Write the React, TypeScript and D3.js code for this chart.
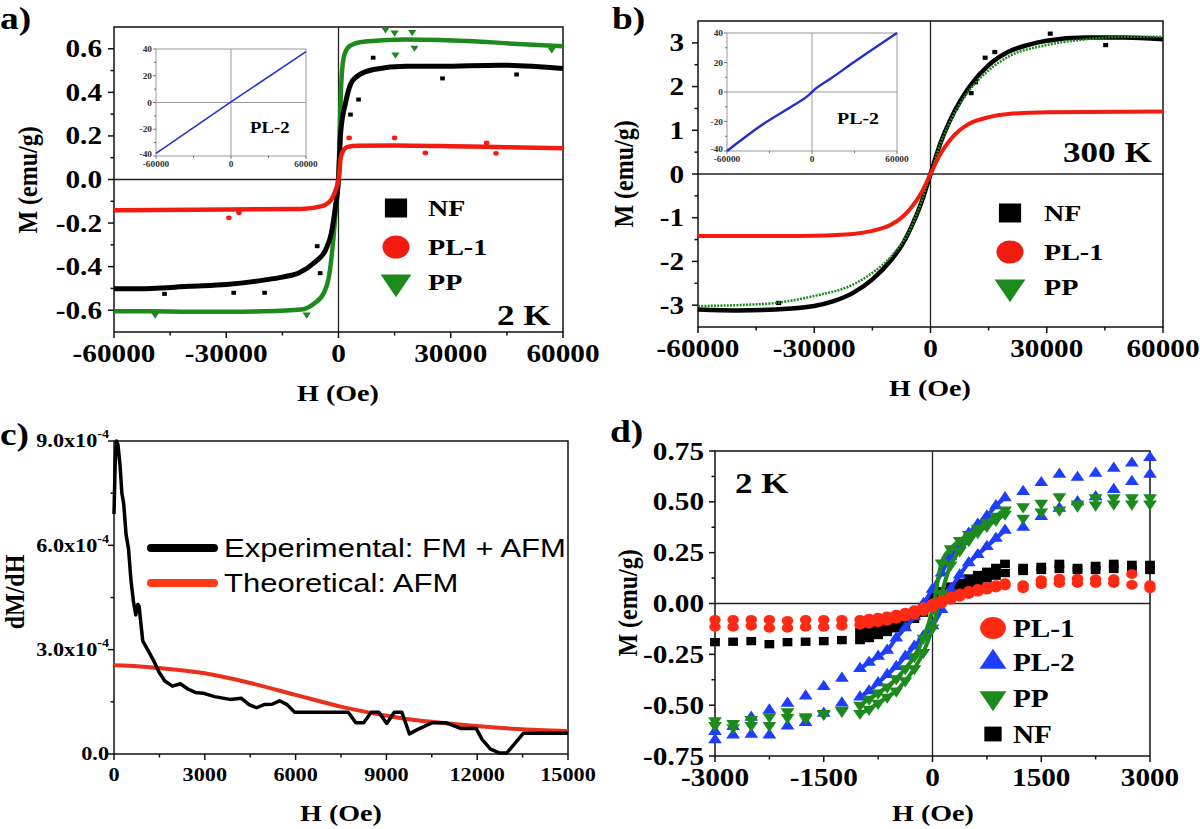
import React from "react";
import * as d3 from "d3";

const SERIF = "'Liberation Serif', 'Times New Roman', serif";
const SANS = "'Liberation Sans', Arial, sans-serif";
const SX = 1.17;

// ---------- tick labels ----------
const H_MAJ = [-60000, -30000, 0, 30000, 60000];
const H_MIN = [-45000, -15000, 15000, 45000];
const A_Y_MAJ = [-0.6, -0.4, -0.2, 0, 0.2, 0.4, 0.6];
const A_Y_MIN = [-0.5, -0.3, -0.1, 0.1, 0.3, 0.5];
const B_Y_MAJ = [-3, -2, -1, 0, 1, 2, 3];
const B_Y_MIN = [-2.5, -1.5, -0.5, 0.5, 1.5, 2.5];
const C_X_MAJ = [0, 3000, 6000, 9000, 12000, 15000];
const C_X_MIN = [1500, 4500, 7500, 10500, 13500];
const C_Y_MAJ = [0, 3e-4, 6e-4, 9e-4];
const C_Y_MIN = [1.5e-4, 4.5e-4, 7.5e-4];
const D_X_MAJ = [-3000, -1500, 0, 1500, 3000];
const D_X_MIN = [-2250, -750, 750, 2250];
const D_Y_MAJ = [-0.75, -0.5, -0.25, 0, 0.25, 0.5, 0.75];
const D_Y_MIN = [-0.625, -0.375, -0.125, 0.125, 0.375, 0.625];
const IN_X_MAJ = [-60000, 0, 60000];
const IN_X_MIN = [-30000, 30000];
const IN_Y_MAJ = [-40, -20, 0, 20, 40];
const IN_Y_MIN = [-30, -10, 10, 30];

// ---------- panel a (2 K) ----------
const aPP_H = [-60000, -50000, -40000, -30000, -20000, -10000, -6500, -3900, -2400, -1300, -600, 0, 300, 700, 1400, 2500, 4500, 8000, 18000, 36000, 45000, 60000];
const aPP_M = [-0.605, -0.605, -0.607, -0.607, -0.605, -0.597, -0.569, -0.52, -0.43, -0.26, -0.12, 0.02, 0.2, 0.43, 0.56, 0.605, 0.625, 0.635, 0.643, 0.635, 0.625, 0.612];
const aNF_H = [-60000, -50000, -40000, -30000, -20000, -15000, -10500, -6500, -3400, -1900, -800, 0, 600, 1900, 3200, 5000, 9400, 18000, 27000, 43000, 60000];
const aNF_M = [-0.502, -0.5, -0.49, -0.482, -0.462, -0.448, -0.428, -0.382, -0.321, -0.245, -0.122, 0.0, 0.22, 0.353, 0.436, 0.474, 0.505, 0.52, 0.52, 0.525, 0.51];
const aPL1_H = [-60000, -30000, -10000, -4400, -1900, -800, 0, 600, 1200, 2400, 5000, 15000, 30000, 45000, 60000];
const aPL1_M = [-0.141, -0.138, -0.135, -0.122, -0.092, -0.05, 0, 0.1, 0.13, 0.15, 0.155, 0.156, 0.153, 0.148, 0.143];
const aNFo_H = [-46500, -28000, -19750, -5700, -4900, 3200, 5350, 9260, 27800, 47600];
const aNFo_M = [-0.525, -0.52, -0.52, -0.306, -0.43, 0.298, 0.367, 0.559, 0.464, 0.482];
const aPL1o_H = [-29300, -26600, 2850, 15000, 23200, 39600, 42100];
const aPL1o_M = [-0.176, -0.153, 0.191, 0.191, 0.122, 0.168, 0.12];
const aPPo_H = [12570, 15000, 19700, 15220, 20300, -8500, -49000, 57000];
const aPPo_M = [0.689, 0.674, 0.677, 0.574, 0.605, -0.62, -0.62, 0.597];
const aIn_H = [-60000, 0, 60000];
const aIn_M = [-38, 0.5, 38];

// ---------- panel b (300 K) ----------
const bNF_H = [-60000, -50000, -40000, -30000, -25000, -20000, -15000, -10000, -7500, -5000, -2500, 0, 2500, 5000, 7500, 10000, 15000, 20000, 25000, 30000, 40000, 50000, 60000];
const bNF_M = [-3.1, -3.12, -3.1, -3.02, -2.91, -2.72, -2.41, -1.95, -1.645, -1.22, -0.69, 0, 0.69, 1.22, 1.645, 1.99, 2.49, 2.79, 2.95, 3.05, 3.12, 3.12, 3.08];
const bPP_H = [-60000, -50000, -40000, -30000, -20000, -15000, -10000, -5000, -2500, 0, 2500, 5000, 10000, 15000, 20000, 30000, 40000, 50000, 60000];
const bPP_M = [-3.02, -3.0, -2.95, -2.79, -2.53, -2.26, -1.87, -1.22, -0.68, 0, 0.68, 1.19, 1.91, 2.37, 2.68, 2.95, 3.08, 3.14, 3.14];
const bPL1_H = [-60000, -40000, -30000, -20000, -15000, -10000, -7500, -5000, -2500, 0, 2500, 5000, 7500, 10000, 15000, 20000, 30000, 60000];
const bPL1_M = [-1.42, -1.42, -1.41, -1.37, -1.3, -1.15, -1.0, -0.77, -0.45, 0, 0.45, 0.77, 1.0, 1.15, 1.3, 1.37, 1.41, 1.43];
const bNFo_H = [30900, 45200, 14100, 16600, 10500, 11650, -39200];
const bNFo_M = [3.21, 2.95, 2.66, 2.79, 1.85, 2.1, -2.95];
const bIn_H = [-60000, -32500, -13000, -3000, 0, 3000, 13000, 30000, 60000];
const bIn_M = [-40, -20.5, -9, -2.6, 0, 2.6, 9, 20.5, 40];

// ---------- panel c (dM/dH) ----------
const cExp_H = [0, 40, 80, 130, 200, 260, 320, 400, 480, 560, 640, 720, 790, 830, 870, 950, 1110, 1300, 1490, 1680, 1930, 2190, 2440, 2690, 2940, 3320, 3830, 4210, 4460, 4710, 4960, 5220, 5470, 5720, 5970, 7740, 7990, 8250, 8500, 8750, 9010, 9260, 9510, 9760, 10020, 10270, 10520, 10960, 11470, 11970, 12160, 12440, 12730, 12980, 13530, 15000];
const cExp_V = [6.9e-4, 8.4e-4, 9.0e-4, 8.9e-4, 8.3e-4, 7.5e-4, 7.2e-4, 6.3e-4, 5.9e-4, 5.0e-4, 4.4e-4, 4.0e-4, 4.3e-4, 4.25e-4, 3.9e-4, 3.25e-4, 3.0e-4, 2.7e-4, 2.35e-4, 2.1e-4, 1.95e-4, 2.02e-4, 1.87e-4, 1.77e-4, 1.75e-4, 1.65e-4, 1.57e-4, 1.6e-4, 1.42e-4, 1.33e-4, 1.42e-4, 1.43e-4, 1.53e-4, 1.42e-4, 1.2e-4, 1.2e-4, 0.9e-4, 0.9e-4, 1.2e-4, 1.2e-4, 0.88e-4, 1.2e-4, 1.2e-4, 0.58e-4, 0.7e-4, 0.8e-4, 0.9e-4, 0.9e-4, 0.73e-4, 0.73e-4, 0.42e-4, 0.14e-4, 0.03e-4, 0.03e-4, 0.6e-4, 0.6e-4];
const cTh_H = [0, 500, 1500, 3000, 4500, 6000, 7600, 9500, 11400, 13300, 15000];
const cTh_V = [2.55e-4, 2.54e-4, 2.47e-4, 2.32e-4, 2.04e-4, 1.7e-4, 1.34e-4, 1.03e-4, 0.85e-4, 0.72e-4, 0.66e-4];

// ---------- panel d (2 K, low field) ----------
const dDense_H = [-1000, -875, -750, -625, -500, -375, -250, -125, 0, 125, 250, 375, 500, 625, 750, 875, 1000];
const dNeg_H = [-3000, -2750, -2500, -2250, -2000, -1750, -1500, -1250];
const dPos_H = [1250, 1500, 1750, 2000, 2250, 2500, 2750, 3000];
const dPL1_A = [-0.08, -0.075, -0.07, -0.063, -0.055, -0.045, -0.033, -0.018, 0.0, 0.018, 0.035, 0.05, 0.062, 0.072, 0.082, 0.09, 0.1];
const dPL1_B = [-0.105, -0.1, -0.093, -0.085, -0.075, -0.065, -0.053, -0.038, -0.02, 0.0, 0.018, 0.033, 0.046, 0.058, 0.068, 0.078, 0.088];
const dPL1_N1 = [-0.08, -0.08, -0.08, -0.08, -0.085, -0.08, -0.08, -0.08];
const dPL1_N2 = [-0.115, -0.115, -0.11, -0.12, -0.12, -0.115, -0.115, -0.11];
const dPL1_P1 = [0.09, 0.115, 0.122, 0.122, 0.12, 0.12, 0.145, 0.09];
const dPL1_P2 = [0.075, 0.095, 0.1, 0.1, 0.1, 0.1, 0.092, 0.075];
const dPL2_A = [-0.32, -0.29, -0.26, -0.23, -0.17, -0.12, -0.065, 0.0, 0.07, 0.15, 0.23, 0.29, 0.345, 0.39, 0.43, 0.48, 0.52];
const dPL2_B = [-0.46, -0.43, -0.39, -0.35, -0.31, -0.26, -0.21, -0.16, -0.11, -0.03, 0.07, 0.14, 0.2, 0.24, 0.28, 0.32, 0.36];
const dPL2_N1 = [-0.63, -0.606, -0.56, -0.524, -0.491, -0.455, -0.409, -0.368];
const dPL2_N2 = [-0.671, -0.647, -0.644, -0.647, -0.603, -0.586, -0.54, -0.49];
const dPL2_P1 = [0.55, 0.594, 0.635, 0.62, 0.64, 0.665, 0.69, 0.718];
const dPL2_P2 = [0.375, 0.427, 0.468, 0.5, 0.525, 0.56, 0.6, 0.635];
const dPP_A = [-0.5, -0.47, -0.44, -0.41, -0.37, -0.32, -0.26, -0.17, -0.03, 0.2, 0.27, 0.31, 0.34, 0.37, 0.4, 0.43, 0.46];
const dPP_B = [-0.54, -0.52, -0.49, -0.46, -0.43, -0.38, -0.32, -0.24, -0.12, 0.05, 0.19, 0.26, 0.31, 0.35, 0.38, 0.41, 0.44];
const dPP_N1 = [-0.576, -0.59, -0.57, -0.557, -0.532, -0.557, -0.54, -0.524];
const dPP_N2 = [-0.6, -0.61, -0.6, -0.6, -0.56, -0.565, -0.545, -0.53];
const dPP_P1 = [0.476, 0.493, 0.525, 0.49, 0.52, 0.52, 0.52, 0.52];
const dPP_P2 = [0.42, 0.45, 0.46, 0.48, 0.485, 0.49, 0.49, 0.49];
const dNF_A = [-0.14, -0.13, -0.12, -0.105, -0.09, -0.07, -0.048, -0.02, 0.033, 0.06, 0.083, 0.1, 0.123, 0.14, 0.156, 0.175, 0.195];
const dNF_B = [-0.18, -0.17, -0.155, -0.14, -0.122, -0.1, -0.075, -0.045, -0.01, 0.02, 0.058, 0.075, 0.09, 0.105, 0.123, 0.137, 0.15];
const dNF_N1 = [-0.19, -0.188, -0.185, -0.2, -0.19, -0.188, -0.185, -0.18];
const dNF_P1 = [0.175, 0.18, 0.195, 0.175, 0.185, 0.195, 0.19, 0.19];
const dNF_P2 = [0.16, 0.165, 0.17, 0.165, 0.165, 0.17, 0.165, 0.165];

const RED = "#f21b0f";
const GREEN = "#1d8a1d";
const BLUE = "#1d3dff";
const BLACK = "#000";

// ---------- scales ----------
const ax = d3.scaleLinear([-60000, 60000], [114, 563]);
const ay = d3.scaleLinear([-0.7, 0.7], [332, 27]);
const aix = d3.scaleLinear([-60000, 60000], [156, 306]);
const aiy = d3.scaleLinear([-40, 40], [156, 49]);
const bx = d3.scaleLinear([-60000, 60000], [698, 1163]);
const by = d3.scaleLinear([-3.5, 3.5], [327, 21]);
const bix = d3.scaleLinear([-60000, 60000], [727, 897]);
const biy = d3.scaleLinear([-40, 40], [151, 33]);
const cx = d3.scaleLinear([0, 15000], [114, 568]);
const cy = d3.scaleLinear([0, 9e-4], [754, 441]);
const dx = d3.scaleLinear([-3000, 3000], [715, 1150]);
const dy = d3.scaleLinear([-0.75, 0.75], [756, 451]);

function T({ x, y, children, size = 24, anchor = "start", family = SERIF, weight = "bold", rotate = 0, sx = SX, fill = "#000" }: any) {
  const tr = rotate
    ? `translate(${x},${y}) rotate(${rotate}) scale(1,${sx})`
    : `translate(${x},${y}) scale(${sx},1)`;
  return (
    <text transform={tr} fontSize={size} fontFamily={family} fontWeight={weight} textAnchor={anchor} fill={fill}>
      {children}
    </text>
  );
}

function symPath(shape: string, area: number) {
  if (shape === "circle") return d3.symbol(d3.symbolCircle, area)() as string;
  if (shape === "square") return d3.symbol(d3.symbolSquare, area)() as string;
  return d3.symbol(d3.symbolTriangle, area)() as string;
}

function Mk({ shape, x, y, area, fill, sx = SX }: any) {
  const rot = shape === "down" ? 180 : 0;
  return <path d={symPath(shape, area)} transform={`translate(${x},${y}) scale(${sx},1) rotate(${rot})`} fill={fill} />;
}

function Frame({ xs, ys, xMaj, xMin, yMaj, yMin, xFmt, yFmt, fs = 25, xLabY, yLabX, zero = false, major = 6, minor = 3.5, lw = 1.5, color = "#111", zeroColor = "#222", zeroW = 1.3, fw = "bold" }: any) {
  const [x0, x1] = xs.range();
  const [y1, y0] = ys.range();
  return (
    <g>
      {zero && <line x1={xs(0)} x2={xs(0)} y1={y0} y2={y1} stroke={zeroColor} strokeWidth={zeroW} />}
      {zero && <line x1={x0} x2={x1} y1={ys(0)} y2={ys(0)} stroke={zeroColor} strokeWidth={zeroW} />}
      <rect x={x0} y={y0} width={x1 - x0} height={y1 - y0} fill="none" stroke={color} strokeWidth={lw} />
      {xMaj.map((v: number, i: number) => (
        <line key={"xM" + i} x1={xs(v)} x2={xs(v)} y1={y1} y2={y1 + major} stroke={color} strokeWidth={lw} />
      ))}
      {xMin.map((v: number, i: number) => (
        <line key={"xm" + i} x1={xs(v)} x2={xs(v)} y1={y1} y2={y1 + minor} stroke={color} strokeWidth={lw} />
      ))}
      {yMaj.map((v: number, i: number) => (
        <line key={"yM" + i} x1={x0 - major} x2={x0} y1={ys(v)} y2={ys(v)} stroke={color} strokeWidth={lw} />
      ))}
      {yMin.map((v: number, i: number) => (
        <line key={"ym" + i} x1={x0 - minor} x2={x0} y1={ys(v)} y2={ys(v)} stroke={color} strokeWidth={lw} />
      ))}
      {xMaj.map((v: number, i: number) => (
        <T key={"xl" + i} x={xs(v)} y={xLabY} anchor="middle" size={fs} weight={fw}>{xFmt(v)}</T>
      ))}
      {yMaj.map((v: number, i: number) => (
        <T key={"yl" + i} x={yLabX} y={ys(v) + fs * 0.34} anchor="end" size={fs} weight={fw}>{yFmt(v)}</T>
      ))}
    </g>
  );
}

function curve(xs: any, ys: any, H: number[], M: number[], kind: any = d3.curveMonotoneX) {
  const pts = H.map((h, i) => [xs(h), ys(M[i])] as [number, number]);
  return d3.line().curve(kind)(pts) as string;
}

function Dots({ xs, ys, H, M, shape, area, fill }: any) {
  return (
    <g>
      {H.map((h: number, i: number) => (
        <Mk key={i} shape={shape} x={xs(h)} y={ys(M[i])} area={area} fill={fill} />
      ))}
    </g>
  );
}

function Legend({ x, tx, items, fs = 24 }: any) {
  return (
    <g>
      {items.map((it: any, i: number) => (
        <g key={i}>
          <Mk shape={it.shape} x={x} y={it.y} area={it.area} fill={it.color} />
          <T x={tx} y={it.y + fs * 0.35} size={fs}>{it.label}</T>
        </g>
      ))}
    </g>
  );
}

const fmtH = (v: number) => String(v);
const fmt1 = (v: number) => (Math.abs(v) < 1e-9 ? "0.0" : v.toFixed(1));
const fmt2 = (v: number) => (Math.abs(v) < 1e-9 ? "0.00" : v.toFixed(2));
const fmtI = (v: number) => String(v);
const fmtSci = (v: number) =>
  v === 0 ? "0.0" : (
    <>
      {(v * 1e4).toFixed(1) + "x10"}
      <tspan dy={-9} fontSize={12}>-4</tspan>
    </>
  );

function Inset({ xs, ys, H, M, lw, label, labX, labY, labSize }: any) {
  const [x0, x1] = xs.range();
  const [y1, y0] = ys.range();
  const g = "#9a9a9a";
  return (
    <g>
      <rect x={x0} y={y0} width={x1 - x0} height={y1 - y0} fill="#fff" stroke={g} strokeWidth={1} />
      <line x1={xs(0)} x2={xs(0)} y1={y0} y2={y1} stroke={g} strokeWidth={1} />
      <line x1={x0} x2={x1} y1={ys(0)} y2={ys(0)} stroke={g} strokeWidth={1} />
      {IN_Y_MAJ.map((v, i) => <line key={"a" + i} x1={x0 - 3} x2={x0} y1={ys(v)} y2={ys(v)} stroke="#555" strokeWidth={0.8} />)}
      {IN_Y_MIN.map((v, i) => <line key={"b" + i} x1={x0 - 2} x2={x0} y1={ys(v)} y2={ys(v)} stroke="#555" strokeWidth={0.8} />)}
      {IN_X_MAJ.map((v, i) => <line key={"c" + i} x1={xs(v)} x2={xs(v)} y1={y1} y2={y1 + 3} stroke="#555" strokeWidth={0.8} />)}
      {IN_X_MIN.map((v, i) => <line key={"d" + i} x1={xs(v)} x2={xs(v)} y1={y1} y2={y1 + 2} stroke="#555" strokeWidth={0.8} />)}
      {IN_Y_MAJ.map((v, i) => (
        <T key={"e" + i} x={x0 - 4} y={ys(v) + (v === -40 ? 1 : 3)} size={8} anchor="end" fill="#333">{String(v)}</T>
      ))}
      {IN_X_MAJ.map((v, i) => (
        <T key={"f" + i} x={xs(v)} y={y1 + 11} size={8} anchor="middle" fill="#333">{String(v)}</T>
      ))}
      <path d={curve(xs, ys, H, M, d3.curveMonotoneX)} fill="none" stroke="#2530cc" strokeWidth={lw} />
      <T x={labX} y={labY} size={labSize}>{label}</T>
    </g>
  );
}

function DSeries({ shape, color, area, A, B, N1, N2, P1, P2 }: any) {
  const rows: any[] = [];
  const add = (H: number[], M: number[] | undefined) => { if (M) rows.push([H, M]); };
  add(dNeg_H, N1); add(dNeg_H, N2); add(dPos_H, P1); add(dPos_H, P2);
  return (
    <g>
      <path d={curve(dx, dy, dDense_H, A, d3.curveMonotoneX)} fill="none" stroke={color} strokeWidth={4} />
      <path d={curve(dx, dy, dDense_H, B, d3.curveMonotoneX)} fill="none" stroke={color} strokeWidth={4} />
      <Dots xs={dx} ys={dy} H={dDense_H} M={A} shape={shape} area={area} fill={color} />
      <Dots xs={dx} ys={dy} H={dDense_H} M={B} shape={shape} area={area} fill={color} />
      {rows.map((r, i) => <Dots key={i} xs={dx} ys={dy} H={r[0]} M={r[1]} shape={shape} area={area} fill={color} />)}
    </g>
  );
}

export default function App() {
  const cxm = (cx.range()[0] + cx.range()[1]) / 2;
  return (
    <svg width={1200} height={829} viewBox="0 0 1200 829" style={{ position: "absolute", left: 0, top: 0, background: "#fff" }}>
      <rect x={0} y={0} width={1200} height={829} fill="#fff" />

      {/* ===== Panel a ===== */}
      <g>
        <Frame xs={ax} ys={ay} xMaj={H_MAJ} xMin={H_MIN} yMaj={A_Y_MAJ} yMin={A_Y_MIN} xFmt={fmtH} yFmt={fmt1} xLabY={362} yLabX={102} zero />
        <Inset xs={aix} ys={aiy} H={aIn_H} M={aIn_M} lw={1.6} label="PL-2" labX={250} labY={133} labSize={16} />
        <path d={curve(ax, ay, aPP_H, aPP_M)} fill="none" stroke={GREEN} strokeWidth={4.5} />
        <Dots xs={ax} ys={ay} H={aPPo_H} M={aPPo_M} shape="down" area={22} fill={GREEN} />
        <path d={curve(ax, ay, aNF_H, aNF_M)} fill="none" stroke={BLACK} strokeWidth={5} />
        <Dots xs={ax} ys={ay} H={aNFo_H} M={aNFo_M} shape="square" area={16} fill={BLACK} />
        <path d={curve(ax, ay, aPL1_H, aPL1_M)} fill="none" stroke={RED} strokeWidth={4.5} />
        <Dots xs={ax} ys={ay} H={aPL1o_H} M={aPL1o_M} shape="circle" area={18} fill={RED} />
        <Legend x={396} tx={428} items={[
          { shape: "square", y: 208, area: 360, color: BLACK, label: "NF" },
          { shape: "circle", y: 247, area: 420, color: RED, label: "PL-1" },
          { shape: "down", y: 282, area: 300, color: GREEN, label: "PP" },
        ]} />
        <T x={497} y={325} size={30}>2 K</T>
        <T x={338} y={401} size={24} anchor="middle">H (Oe)</T>
        <T x={37} y={180} size={24} anchor="middle" rotate={-90}>M (emu/g)</T>
        <T x={0} y={29} size={32}>a)</T>
      </g>

      {/* ===== Panel b ===== */}
      <g>
        <Frame xs={bx} ys={by} xMaj={H_MAJ} xMin={H_MIN} yMaj={B_Y_MAJ} yMin={B_Y_MIN} xFmt={fmtH} yFmt={fmtI} xLabY={357} yLabX={684} zero />
        <Inset xs={bix} ys={biy} H={bIn_H} M={bIn_M} lw={2.4} label="PL-2" labX={837} labY={124} labSize={17} />
        <path d={curve(bx, by, bNF_H, bNF_M)} fill="none" stroke={BLACK} strokeWidth={4.5} />
        <Dots xs={bx} ys={by} H={bNFo_H} M={bNFo_M} shape="square" area={18} fill={BLACK} />
        <path d={curve(bx, by, bPP_H, bPP_M)} fill="none" stroke={GREEN} strokeWidth={2.5} strokeDasharray="2 1.2" />
        <path d={curve(bx, by, bPL1_H, bPL1_M)} fill="none" stroke={RED} strokeWidth={4} />
        <Legend x={1010} tx={1044} items={[
          { shape: "square", y: 213, area: 360, color: BLACK, label: "NF" },
          { shape: "circle", y: 252, area: 420, color: RED, label: "PL-1" },
          { shape: "down", y: 287, area: 300, color: GREEN, label: "PP" },
        ]} />
        <T x={1063} y={162} size={30}>300 K</T>
        <T x={930} y={396} size={24} anchor="middle">H (Oe)</T>
        <T x={633} y={174} size={24} anchor="middle" rotate={-90}>M (emu/g)</T>
        <T x={612} y={29} size={32}>b)</T>
      </g>

      {/* ===== Panel c ===== */}
      <g>
        <Frame xs={cx} ys={cy} xMaj={C_X_MAJ} xMin={C_X_MIN} yMaj={C_Y_MAJ} yMin={C_Y_MIN} xFmt={fmtH} yFmt={fmtSci} fs={19} xLabY={781} yLabX={109} />
        <path d={curve(cx, cy, cTh_H, cTh_V)} fill="none" stroke="#e8301c" strokeWidth={4} />
        <path d={curve(cx, cy, cExp_H, cExp_V, d3.curveLinear)} fill="none" stroke={BLACK} strokeWidth={3.5} strokeLinejoin="round" />
        <line x1={151} x2={214} y1={548} y2={548} stroke={BLACK} strokeWidth={8} strokeLinecap="round" />
        <line x1={151} x2={214} y1={583} y2={583} stroke="#ff3a14" strokeWidth={8} strokeLinecap="round" />
        <T x={224} y={557} size={26.5} family={SANS} weight="normal">Experimental: FM + AFM</T>
        <T x={224} y={592} size={26.5} family={SANS} weight="normal">Theoretical: AFM</T>
        <T x={cxm} y={821} size={24} anchor="middle">H (Oe)</T>
        <T x={24} y={592} size={24} anchor="middle" rotate={-90}>dM/dH</T>
        <T x={0} y={445} size={32}>c)</T>
      </g>

      {/* ===== Panel d ===== */}
      <g>
        <Frame xs={dx} ys={dy} xMaj={D_X_MAJ} xMin={D_X_MIN} yMaj={D_Y_MAJ} yMin={D_Y_MIN} xFmt={fmtH} yFmt={fmt2} xLabY={786} yLabX={704} zero />
        <DSeries shape="square" color={BLACK} area={70} A={dNF_A} B={dNF_B} N1={dNF_N1} P1={dNF_P1} P2={dNF_P2} />
        <DSeries shape="triangle" color={BLUE} area={60} A={dPL2_A} B={dPL2_B} N1={dPL2_N1} N2={dPL2_N2} P1={dPL2_P1} P2={dPL2_P2} />
        <DSeries shape="down" color={GREEN} area={60} A={dPP_A} B={dPP_B} N1={dPP_N1} N2={dPP_N2} P1={dPP_P1} P2={dPP_P2} />
        <DSeries shape="circle" color="#ff2a14" area={75} A={dPL1_A} B={dPL1_B} N1={dPL1_N1} N2={dPL1_N2} P1={dPL1_P1} P2={dPL1_P2} />
        <Legend x={993} tx={1013} fs={25} items={[
          { shape: "circle", y: 628, area: 380, color: "#ff2a14", label: "PL-1" },
          { shape: "triangle", y: 662, area: 230, color: BLUE, label: "PL-2" },
          { shape: "down", y: 698, area: 230, color: GREEN, label: "PP" },
          { shape: "square", y: 734, area: 220, color: BLACK, label: "NF" },
        ]} />
        <T x={735} y={493} size={30}>2 K</T>
        <T x={933} y={821} size={24} anchor="middle">H (Oe)</T>
        <T x={637} y={603} size={24} anchor="middle" rotate={-90}>M (emu/g)</T>
        <T x={610} y={442} size={32}>d)</T>
      </g>
    </svg>
  );
}
